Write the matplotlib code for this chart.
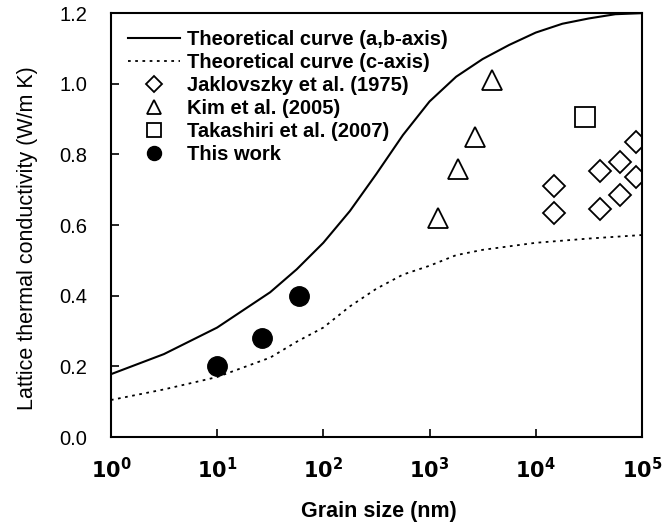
import matplotlib
matplotlib.use("Agg")
import matplotlib.pyplot as plt

plt.rcParams['font.family'] = ['Liberation Sans', 'DejaVu Sans']

# theoretical curves
curve_x = [1, 3.16, 10, 31.6, 56.2, 100, 178, 316, 562, 1000, 1780, 3160,
           5620, 10000, 17800, 31600, 56200, 100000]
curve_ab = [0.178, 0.235, 0.31, 0.41, 0.475, 0.55, 0.64, 0.745, 0.855, 0.95,
            1.02, 1.07, 1.11, 1.145, 1.17, 1.185, 1.197, 1.2]
curve_c = [0.105, 0.135, 0.17, 0.225, 0.27, 0.31, 0.37, 0.42, 0.46, 0.485,
           0.515, 0.53, 0.54, 0.55, 0.556, 0.562, 0.567, 0.572]

# experimental data
jak_x = [14800, 14800, 40000, 40000, 62000, 62000, 88000, 88000]
jak_y = [0.71, 0.634, 0.754, 0.645, 0.78, 0.685, 0.836, 0.736]
kim_x = [1200, 1860, 2690, 3870]
kim_y = [0.62, 0.76, 0.85, 1.01]
tak_x = [29000]
tak_y = [0.907]
this_x = [10, 26.5, 59]
this_y = [0.20, 0.28, 0.40]

fig = plt.figure(figsize=(6.68, 5.26), dpi=100)
ax = fig.add_axes([0.166, 0.169, 0.795, 0.806])

ax.plot(curve_x, curve_ab, color='black', lw=1.5, label='Theoretical curve (a,b-axis)')
ax.plot(curve_x, curve_c, color='black', lw=1.3, linestyle=(0, (1.5, 2.5)),
        label='Theoretical curve (c-axis)')
ax.plot(jak_x, jak_y, 'D', ms=11, mfc='white', mec='black', mew=1.3, ls='none',
        label='Jaklovszky et al. (1975)')
ax.plot(kim_x, kim_y, '^', ms=14, mfc='white', mec='black', mew=1.3, ls='none',
        label='Kim et al. (2005)')
ax.plot(tak_x, tak_y, 's', ms=14, mfc='white', mec='black', mew=1.3, ls='none',
        label='Takashiri et al. (2007)')
ax.plot(this_x, this_y, 'o', ms=14, color='black', ls='none', label='This work')

ax.set_xscale('log')
ax.set_xlim(1, 1e5)
ax.set_ylim(0, 1.2)
ax.set_yticks([0.0, 0.2, 0.4, 0.6, 0.8, 1.0, 1.2])
ax.set_yticklabels(['0.0', '0.2', '0.4', '0.6', '0.8', '1.0', '1.2'])
ax.set_xticks([1, 10, 100, 1000, 1e4, 1e5])
ax.set_xticklabels(['$\\mathbf{10^{%d}}$' % i for i in range(6)])
ax.minorticks_off()
ax.tick_params(direction='in', length=6, width=1.2)
ax.tick_params(axis='y', labelsize=14.5, pad=17)
ax.tick_params(axis='x', labelsize=15, pad=14)
for lab in ax.get_xticklabels():
    lab.set_fontweight('bold')
for s in ax.spines.values():
    s.set_linewidth(1.5)

ax.set_xlabel('Grain size (nm)', fontsize=15.5, fontweight='bold')
ax.xaxis.set_label_coords(0.505, -0.15)
ax.set_ylabel('Lattice thermal conductivity (W/m K)', fontsize=15.5)
ax.yaxis.set_label_coords(-0.138, 0.47)

ax.legend(loc='upper left', frameon=False, prop={'weight': 'bold', 'size': 14.5},
          handlelength=2.6, handletextpad=0.35, labelspacing=0.2,
          markerscale=0.72, borderaxespad=0.5, borderpad=0.35)

fig.savefig('out.png', dpi=100)
